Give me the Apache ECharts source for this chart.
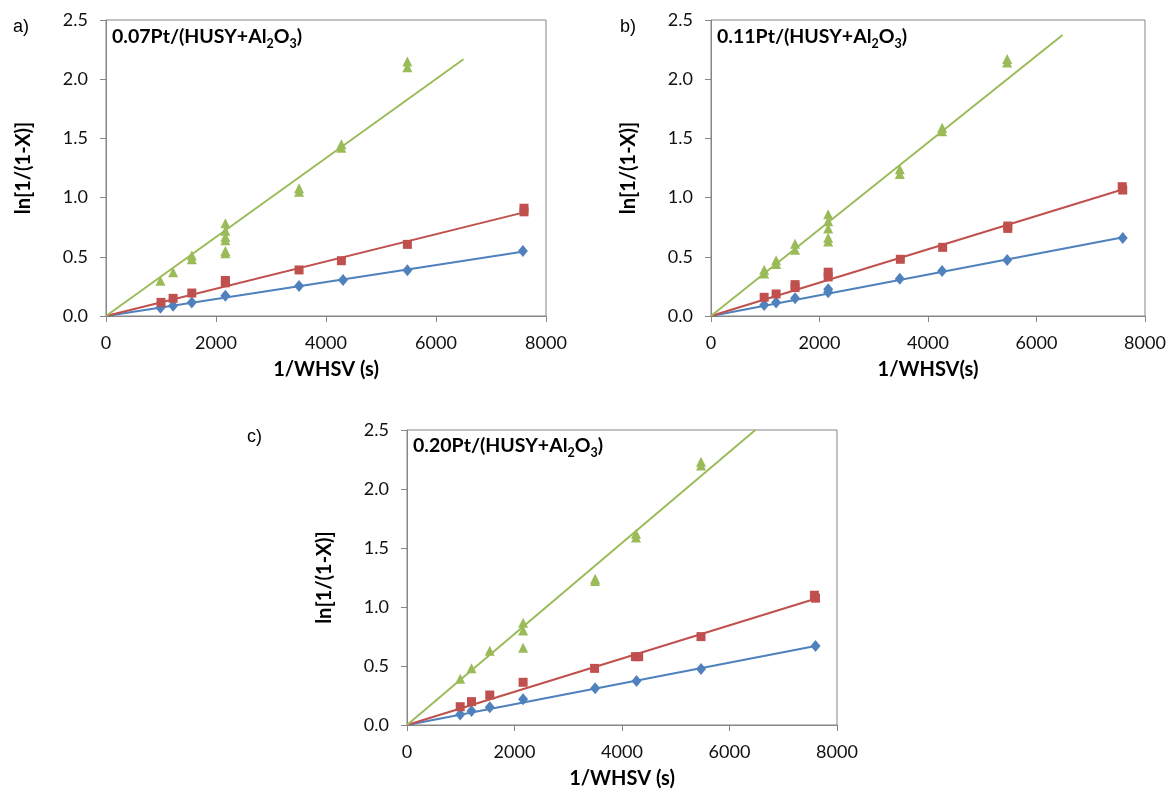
<!DOCTYPE html>
<html>
<head>
<meta charset="utf-8">
<script src="https://cdn.jsdelivr.net/npm/echarts@6/dist/echarts.min.js"></script>
<style>
  html, body { margin: 0; padding: 0; background: #fff; }
  #chart { width: 1173px; height: 796px; }
</style>
</head>
<body>
<div id="chart"></div>
<script>
// axis ranges (shared by the three panels)
const xRange = [0, 8000, 2000]
const yRange = [0, 2.5, 0.5]

// a) 0.07Pt
const blueA = [[990, 0.07], [1220, 0.087], [1560, 0.115], [2170, 0.17], [3510, 0.253], [4310, 0.304], [5480, 0.386], [7580, 0.549]]
const redA = [[1000, 0.115], [1220, 0.149], [1560, 0.194], [2170, 0.28], [2170, 0.30], [3510, 0.389], [4280, 0.467], [5480, 0.605], [7600, 0.88], [7600, 0.91]]
const greenA = [[990, 0.298], [1220, 0.369], [1560, 0.48], [1560, 0.51], [2170, 0.783], [2170, 0.72], [2170, 0.67], [2170, 0.64], [2170, 0.55], [2170, 0.53], [3510, 1.05], [3510, 1.08], [4280, 1.42], [4280, 1.45], [5480, 2.10], [5480, 2.15]]
const trendA = { blue: [7600, 0.545], red: [7600, 0.875], green: [6500, 2.168] }

// b) 0.11Pt
const blueB = [[980, 0.093], [1200, 0.113], [1550, 0.149], [2160, 0.20], [2160, 0.225], [3480, 0.315], [4260, 0.38], [5460, 0.473], [7590, 0.659]]
const redB = [[980, 0.158], [1200, 0.186], [1550, 0.24], [1550, 0.265], [2160, 0.33], [2160, 0.37], [3490, 0.479], [4270, 0.58], [5470, 0.74], [5470, 0.76], [7580, 1.092], [7590, 1.064]]
const greenB = [[980, 0.36], [980, 0.39], [1200, 0.44], [1200, 0.47], [1550, 0.56], [1550, 0.61], [2160, 0.86], [2160, 0.80], [2160, 0.74], [2160, 0.66], [2160, 0.63], [3480, 1.20], [3480, 1.24], [4260, 1.56], [4260, 1.59], [5460, 2.14], [5460, 2.17]]
const trendB = { blue: [7600, 0.665], red: [7600, 1.07], green: [6480, 2.373] }

// c) 0.20Pt
const blueC = [[990, 0.09], [1200, 0.119], [1540, 0.15], [2160, 0.218], [3500, 0.311], [4270, 0.373], [5470, 0.475], [7600, 0.67]]
const redC = [[990, 0.155], [1200, 0.198], [1540, 0.254], [2160, 0.362], [3490, 0.48], [4250, 0.579], [4310, 0.579], [5470, 0.749], [7580, 1.10], [7600, 1.075]]
const greenC = [[990, 0.393], [1200, 0.48], [1540, 0.63], [2160, 0.867], [2160, 0.80], [2160, 0.655], [3500, 1.22], [3500, 1.24], [4260, 1.59], [4260, 1.62], [5470, 2.20], [5470, 2.23]]
const trendC = { blue: [7600, 0.67], red: [7600, 1.07], green: [6480, 2.5] }

const panels = [
  { label: 'a)', pt: '0.07', xName: '1/WHSV (s)', blue: blueA, red: redA, green: greenA, trend: trendA,
    grid: { left: 106, top: 20, width: 440, height: 296 }, labelPos: [13, 18], titlePos: [112, 27] },
  { label: 'b)', pt: '0.11', xName: '1/WHSV(s)', blue: blueB, red: redB, green: greenB, trend: trendB,
    grid: { left: 711, top: 20, width: 434, height: 296 }, labelPos: [620, 18], titlePos: [717, 27] },
  { label: 'c)', pt: '0.20', xName: '1/WHSV (s)', blue: blueC, red: redC, green: greenC, trend: trendC,
    grid: { left: 407, top: 430, width: 430, height: 295 }, labelPos: [247, 428], titlePos: [413, 436] }
]

const colors = { blue: '#4F81BD', red: '#C0504D', green: '#9BBB59' }
const symbols = { blue: 'diamond', red: 'rect', green: 'triangle' }
const symbolSizes = { blue: [10, 12], red: [9, 9], green: [10, 10] }
const axisGrey = '#868686'
const font = 'Lato, "Open Sans", sans-serif'

const grids = []
const xAxes = []
const yAxes = []
const series = []
const graphics = []

panels.forEach((p, i) => {
  grids.push(Object.assign({ show: true, borderColor: axisGrey, borderWidth: 1, backgroundColor: 'transparent' }, p.grid))
  xAxes.push({
    type: 'value', gridIndex: i, min: xRange[0], max: xRange[1], interval: xRange[2],
    name: p.xName, nameLocation: 'middle', nameGap: 44,
    nameTextStyle: { fontFamily: font, fontWeight: 'bold', fontSize: 20, color: '#000' },
    axisLine: { show: true, lineStyle: { color: axisGrey, width: 1 } },
    axisTick: { show: true, inside: false, length: 6, lineStyle: { color: axisGrey } },
    axisLabel: { fontFamily: font, fontSize: 18, color: '#111', margin: 18,
      formatter: v => String(v) },
    splitLine: { show: false }
  })
  yAxes.push({
    type: 'value', gridIndex: i, min: yRange[0], max: yRange[1], interval: yRange[2],
    name: 'ln[1/(1-X)]', nameLocation: 'middle', nameGap: 72,
    nameTextStyle: { fontFamily: font, fontWeight: 'bold', fontSize: 20, color: '#000' },
    axisLine: { show: true, lineStyle: { color: axisGrey, width: 1 } },
    axisTick: { show: true, inside: false, length: 6, lineStyle: { color: axisGrey } },
    axisLabel: { fontFamily: font, fontSize: 18, color: '#111', margin: 18,
      formatter: v => v.toFixed(1) },
    splitLine: { show: false }
  })

  ;['blue', 'red', 'green'].forEach(k => {
    series.push({
      type: 'line', xAxisIndex: i, yAxisIndex: i, data: [[0, 0], p.trend[k]],
      showSymbol: false, symbol: 'none', clip: true, silent: true,
      lineStyle: { color: colors[k], width: 2 }, z: 2
    })
  })
  ;['blue', 'red', 'green'].forEach(k => {
    series.push({
      type: 'scatter', xAxisIndex: i, yAxisIndex: i, data: p[k],
      symbol: symbols[k], symbolSize: symbolSizes[k],
      itemStyle: { color: colors[k], opacity: 1 }, z: 3
    })
  })

  graphics.push({
    type: 'text', left: p.labelPos[0], top: p.labelPos[1],
    style: { text: p.label, font: '18px "Liberation Sans", Arial, sans-serif', fill: '#000' }
  })
  graphics.push({
    type: 'text', left: p.titlePos[0], top: p.titlePos[1],
    style: {
      text: '{m|' + p.pt + 'Pt/(HUSY+Al}{s|2}{m|O}{s|3}{m|)}',
      rich: {
        m: { fontFamily: font, fontWeight: 'bold', fontSize: 19.5, fill: '#000', lineHeight: 22, verticalAlign: 'bottom' },
        s: { fontFamily: font, fontWeight: 'bold', fontSize: 12.5, fill: '#000', lineHeight: 15, verticalAlign: 'bottom', padding: [0, 0, -3, 0] }
      }
    }
  })
})

const chart = echarts.init(document.getElementById('chart'))
chart.setOption({
  animation: false,
  grid: grids,
  xAxis: xAxes,
  yAxis: yAxes,
  series: series,
  graphic: graphics
})
</script>
</body>
</html>
